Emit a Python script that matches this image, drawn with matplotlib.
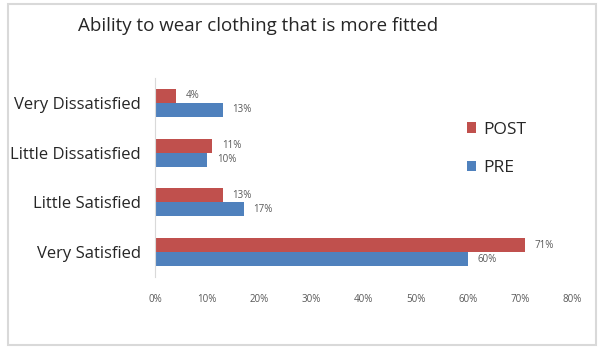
import numpy as np
import matplotlib.pyplot as plt
from matplotlib.patches import Rectangle

categories = ['Very Satisfied', 'Little Satisfied', 'Little Dissatisfied', 'Very Dissatisfied']
post_vals = [71, 13, 11, 4]
pre_vals = [60, 17, 10, 13]
xticks = [0, 10, 20, 30, 40, 50, 60, 70, 80]

red = '#C0504D'
blue = '#4F81BD'
plt.rcParams['font.family'] = ['Open Sans', 'DejaVu Sans']

fig = plt.figure(figsize=(6, 3.52), dpi=100)
fig.patches.append(Rectangle((8 / 600, 1 - 345 / 352), 588 / 600, 341 / 352,
                             transform=fig.transFigure, fill=False,
                             edgecolor='#D9D9D9', lw=1.5))
ax = fig.add_axes([155 / 600, 1 - 277 / 352, 417 / 600, 199 / 352])

y = np.arange(len(categories))
h = 0.28
ax.barh(y + h / 2, post_vals, h, color=red, label='POST')
ax.barh(y - h / 2, pre_vals, h, color=blue, label='PRE')

# value labels just past the end of each bar
for yi, v in zip(y, post_vals):
    ax.annotate(f'{v}%', (v, yi + h / 2), xytext=(7, 0), textcoords='offset points',
                va='center', ha='left', fontsize=7, color='#595959')
for yi, v in zip(y, pre_vals):
    ax.annotate(f'{v}%', (v, yi - h / 2), xytext=(7, 0), textcoords='offset points',
                va='center', ha='left', fontsize=7, color='#595959')

ax.set_xlim(0, 80)
ax.set_ylim(-0.5, 3.5)
ax.set_xticks(xticks)
ax.set_xticklabels([f'{t}%' for t in xticks], fontsize=7, color='#595959')
ax.set_yticks(y)
ax.set_yticklabels(categories, fontsize=12, color='#262626')
ax.tick_params(axis='both', length=0)
ax.tick_params(axis='x', pad=12)
ax.tick_params(axis='y', pad=10)
for s in ['top', 'right', 'bottom']:
    ax.spines[s].set_visible(False)
ax.spines['left'].set_color('#D9D9D9')

handles, labels = ax.get_legend_handles_labels()
ax.legend(handles, labels, loc='upper left', bbox_to_anchor=(451 / 600, 1 - 106 / 352),
          bbox_transform=fig.transFigure, frameon=False, fontsize=12.5,
          handlelength=0.55, handleheight=0.55, handletextpad=0.4, labelspacing=1.3,
          labelcolor='#262626')

fig.text(258 / 600, 1 - 26 / 352, 'Ability to wear clothing that is more fitted',
         ha='center', va='center', fontsize=13.5, color='#262626')

fig.savefig('out.png', dpi=100)
